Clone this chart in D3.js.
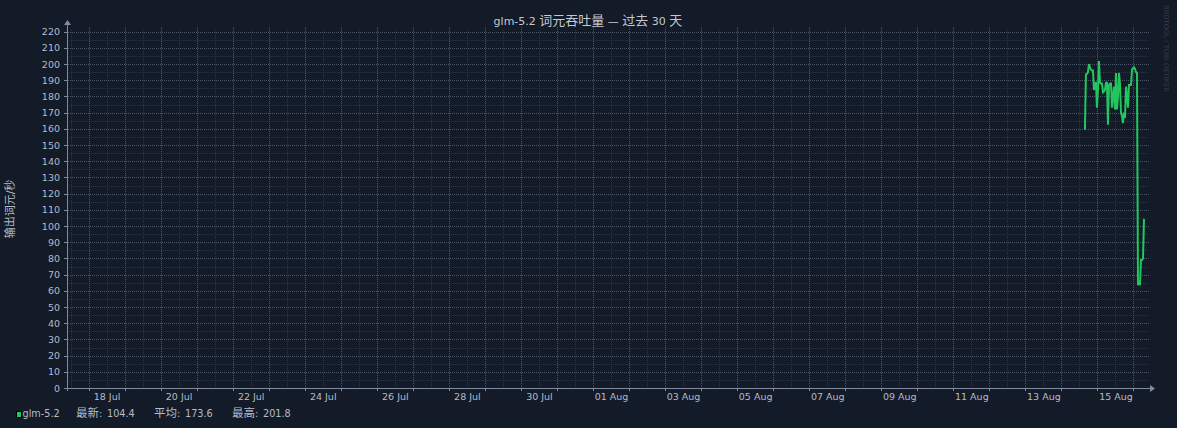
<!DOCTYPE html>
<html>
<head>
<meta charset="utf-8">
<script src="https://cdn.jsdelivr.net/npm/d3@7"></script>
<style>
  html, body { margin: 0; padding: 0; background: #131a28; }
  svg { display: block; }
</style>
</head>
<body>
<svg id="chart" width="1177" height="428"></svg>
<script>
// ---------------- data ----------------
const titleText = "glm-5.2 词元吞吐量 — 过去 30 天";
const yAxisTitle = "输出词元/秒";
const watermarkText = "RRDTOOL / TOBI OETIKER";
const seriesName = "glm-5.2";
const windowStart = "2025-07-17T09:40:00Z";
const windowDays = 30;
const seriesStart = "2025-08-14T15:00:00Z";
const seriesStepMinutes = 40;
const seriesValues = [
  160, 160, 193.5, 194, 195, 200, 198, 196.5, 196, 196,
  184, 186, 189, 173, 184, 201.8, 188.5, 188, 188, 182.5,
  183, 184, 188.5, 188.5, 162.5, 187, 188, 188, 173, 180,
  186, 172, 194.5, 172, 180, 194.5, 188, 170, 168, 163.5,
  170, 166.7, 186, 180, 173, 187, 187, 187, 196.5, 197.5,
  198, 197, 195, 194.5, 64, 64, 64, 79, 79, 80, 104.4
];
const xTickLabels = ["2025-07-18","2025-07-20","2025-07-22","2025-07-24","2025-07-26","2025-07-28","2025-07-30",
  "2025-08-01","2025-08-03","2025-08-05","2025-08-07","2025-08-09","2025-08-11","2025-08-13","2025-08-15"];
const yMax = 221;
const yMajorTicks = d3.range(0, 221, 10);
const yMinorTicks = d3.range(5, 221, 10);
const legendLabels = ["最新", "平均", "最高"];
const legendValues = ["104.4", "173.6", "201.8"];

// ---------------- layout ----------------
const L = 67, R = 1148, T = 30, B = 388;
const bg = "#131a28", lineColor = "#22c55e", textColor = "#b4bcc9";
const majorGrid = "#4b5568", minorGrid = "#2c3546", axisColor = "#7f8ba0";
const LATIN = "DejaVu Sans", CJK = "Noto Sans CJK SC";

const svg = d3.select("#chart");
svg.append("rect").attr("width", 1177).attr("height", 428).attr("fill", bg);

const t0 = d3.isoParse(windowStart);
const t1 = d3.utcDay.offset(t0, windowDays);
const x = d3.scaleUtc().domain([t0, t1]).range([L, R]);
const y = d3.scaleLinear().domain([0, yMax]).range([B, T]);

function rich(sel, str, latinSize, cjkSize) {
  const runs = str.match(/[\u3000-\u9fff\uff00-\uffef]+|[^\u3000-\u9fff\uff00-\uffef]+/g);
  runs.forEach(r => {
    const isCjk = /[\u3000-\u9fff\uff00-\uffef]/.test(r);
    sel.append("tspan").text(r)
      .attr("font-family", isCjk ? CJK : LATIN)
      .attr("font-size", isCjk ? cjkSize : latinSize);
  });
  return sel;
}

// ---------------- grid ----------------
const grid = svg.append("g").attr("shape-rendering", "crispEdges");
const noons = d3.utcHour.every(12).range(t0, t1).filter(d => d.getUTCHours() === 12);
grid.selectAll(".vmin").data(noons).join("line")
  .attr("x1", d => Math.round(x(d)) + 0.5).attr("x2", d => Math.round(x(d)) + 0.5)
  .attr("y1", T).attr("y2", B)
  .attr("stroke", minorGrid).attr("stroke-dasharray", "1,1");
grid.selectAll(".hmin").data(yMinorTicks).join("line")
  .attr("x1", L).attr("x2", R)
  .attr("y1", d => Math.round(y(d)) + 0.5).attr("y2", d => Math.round(y(d)) + 0.5)
  .attr("stroke", minorGrid).attr("stroke-dasharray", "1,1");
const midnights = d3.utcDay.range(t0, t1);
grid.selectAll(".vmaj").data(midnights).join("line")
  .attr("x1", d => Math.round(x(d)) + 0.5).attr("x2", d => Math.round(x(d)) + 0.5)
  .attr("y1", T - 3).attr("y2", B + 3)
  .attr("stroke", majorGrid).attr("stroke-dasharray", "1,1");
grid.selectAll(".vtick").data(midnights).join("line")
  .attr("x1", d => Math.round(x(d)) + 0.5).attr("x2", d => Math.round(x(d)) + 0.5)
  .attr("y1", B).attr("y2", B + 3)
  .attr("stroke", axisColor);
grid.selectAll(".hmaj").data(yMajorTicks.filter(v => v > 0)).join("line")
  .attr("x1", L - 3).attr("x2", R + 1)
  .attr("y1", d => Math.round(y(d)) + 0.5).attr("y2", d => Math.round(y(d)) + 0.5)
  .attr("stroke", majorGrid).attr("stroke-dasharray", "1,1");
grid.selectAll(".htick").data(yMajorTicks).join("line")
  .attr("x1", L - 3).attr("x2", L)
  .attr("y1", d => Math.round(y(d)) + 0.5).attr("y2", d => Math.round(y(d)) + 0.5)
  .attr("stroke", axisColor);

// ---------------- axes ----------------
const yAxis = d3.axisLeft(y).tickValues(yMajorTicks).tickSize(0).tickPadding(7);
const gy = svg.append("g").attr("transform", `translate(${L},0)`).call(yAxis);
gy.select(".domain").remove();
gy.selectAll("text").attr("fill", textColor).attr("font-family", LATIN).attr("font-size", 9.5);

const labelDates = xTickLabels.map(s => d3.utcHour.offset(d3.isoParse(s + "T00:00:00Z"), 12));
const xAxis = d3.axisBottom(x).tickValues(labelDates).tickSize(0).tickPadding(5)
  .tickFormat(d3.utcFormat("%d %b"));
const gx = svg.append("g").attr("transform", `translate(0,${B})`).call(xAxis);
gx.select(".domain").remove();
gx.selectAll("text").attr("fill", textColor).attr("font-family", LATIN).attr("font-size", 9.5);

svg.append("line").attr("x1", L - 3).attr("x2", R + 2).attr("y1", B + 0.5).attr("y2", B + 0.5)
  .attr("stroke", axisColor).attr("shape-rendering", "crispEdges");
svg.append("path").attr("d", `M${R + 2},${B - 3}L${R + 7},${B + 0.5}L${R + 2},${B + 4}Z`).attr("fill", axisColor);
svg.append("line").attr("x1", L + 0.5).attr("x2", L + 0.5).attr("y1", B + 3).attr("y2", T - 5)
  .attr("stroke", axisColor).attr("shape-rendering", "crispEdges");
svg.append("path").attr("d", `M${L - 3},${T - 5}L${L + 0.5},${T - 10}L${L + 4},${T - 5}Z`).attr("fill", axisColor);

// ---------------- series ----------------
const sStart = d3.isoParse(seriesStart);
const points = seriesValues.map((v, i) => ({ t: d3.utcMinute.offset(sStart, i * seriesStepMinutes), v }));
const line = d3.line().x(d => x(d.t)).y(d => y(d.v));
svg.append("path").datum(points).attr("d", line)
  .attr("fill", "none").attr("stroke", lineColor).attr("stroke-width", 2)
  .attr("stroke-linejoin", "miter");

// ---------------- texts ----------------
rich(svg.append("text").attr("x", 588).attr("y", 25).attr("text-anchor", "middle").attr("fill", "#c3c9d3"),
  titleText, 11, 13);

rich(svg.append("text").attr("transform", `translate(14,${(T + B) / 2}) rotate(-90)`)
  .attr("text-anchor", "middle").attr("fill", textColor), yAxisTitle, 11, 11);

svg.append("text").attr("transform", "translate(1164,5) rotate(90)")
  .attr("font-family", LATIN).attr("font-size", 6.5).attr("fill", "#363e4e")
  .attr("textLength", 87).attr("lengthAdjust", "spacingAndGlyphs")
  .text(watermarkText);

// legend
svg.append("rect").attr("x", 16.5).attr("y", 411.5).attr("width", 5).attr("height", 6)
  .attr("fill", lineColor).attr("stroke", "#000").attr("stroke-width", 1);
svg.append("text").attr("x", 22.5).attr("y", 417).attr("fill", textColor)
  .attr("font-family", LATIN).attr("font-size", 9.7).text(seriesName);
const legendX = [76, 154, 232];
legendLabels.forEach((lab, i) => {
  rich(svg.append("text").attr("x", legendX[i]).attr("y", 417).attr("fill", textColor), lab + ":", 9.7, 11.5);
  svg.append("text").attr("x", legendX[i] + 31).attr("y", 417).attr("fill", textColor)
    .attr("font-family", LATIN).attr("font-size", 9.7).text(legendValues[i]);
});
</script>
</body>
</html>
